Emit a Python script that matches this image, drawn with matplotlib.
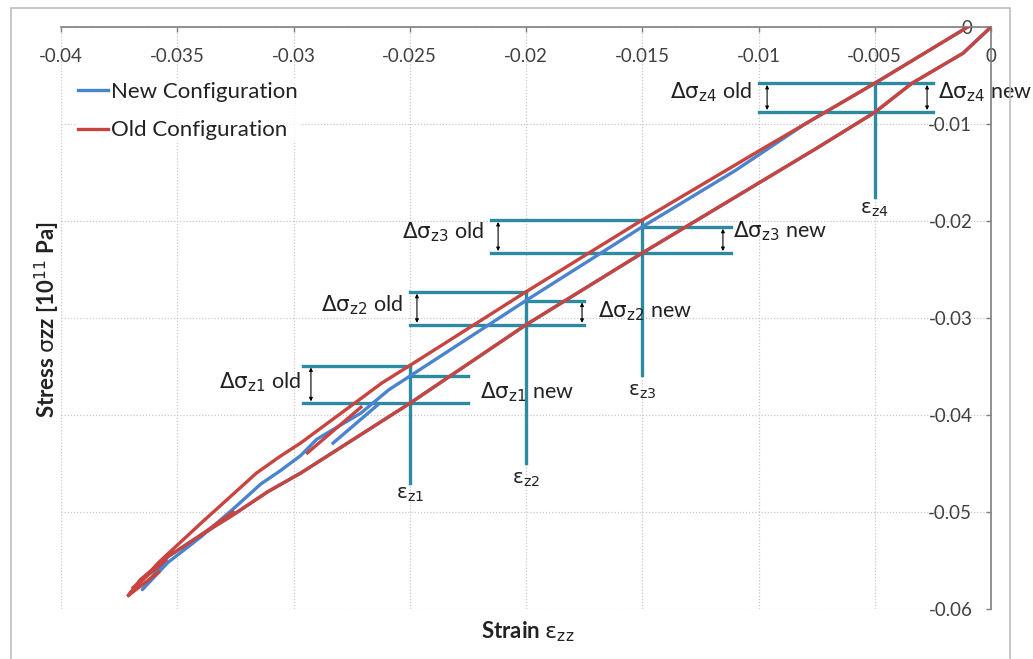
import matplotlib
matplotlib.use('Agg')
import matplotlib.pyplot as plt
import matplotlib.patches as patches
import numpy as np

plt.rcParams['font.family'] = ['Lato', 'DejaVu Sans']

# tick values / labels
x_ticks = [-0.04, -0.035, -0.03, -0.025, -0.02, -0.015, -0.01, -0.005, 0]
x_labels = ['-0.04', '-0.035', '-0.03', '-0.025', '-0.02', '-0.015', '-0.01', '-0.005', '0']
y_ticks = [0, -0.01, -0.02, -0.03, -0.04, -0.05, -0.06]
y_labels = ['0', '-0.01', '-0.02', '-0.03', '-0.04', '-0.05', '-0.06']

# old configuration: loading branch then unloading branch
old_strain = [0, -0.0012, -0.0034, -0.005, -0.0075, -0.010, -0.015, -0.020, -0.025,
              -0.0297, -0.0311, -0.0326, -0.034, -0.0354, -0.0366, -0.0371,
              -0.0358, -0.0340, -0.0316, -0.0306, -0.0297,
              -0.0271, -0.0262, -0.025, -0.020, -0.015, -0.010, -0.005, -0.001]
old_stress = [0, -0.0027, -0.0058, -0.0088, -0.0125, -0.0161, -0.0233, -0.0307, -0.0388,
              -0.0460, -0.0479, -0.0503, -0.0524, -0.0546, -0.0570, -0.0586,
              -0.0552, -0.0512, -0.0460, -0.0443, -0.0429,
              -0.0383, -0.0367, -0.0349, -0.0273, -0.0199, -0.0128, -0.0058, 0.0]
# short reloading pieces of the old configuration
old_part_strain = [-0.0294, -0.0271, np.nan, -0.0340, -0.0326, np.nan,
                   -0.0369, -0.0355, np.nan, -0.0371, -0.0358]
old_part_stress = [-0.0439, -0.0392, np.nan, -0.0524, -0.0500, np.nan,
                   -0.0578, -0.0550, np.nan, -0.0586, -0.0562]

# new configuration
new_strain = [0, -0.0012, -0.0034, -0.005, -0.0075, -0.010, -0.015, -0.020, -0.025,
              -0.0297, -0.0311, -0.0326, -0.034, -0.0354, -0.0365,
              -0.0354, -0.034, -0.0326, -0.0314, -0.0306, -0.0297, -0.029,
              -0.0271, -0.0259, -0.025, -0.020, -0.015, -0.011, -0.008, -0.005, -0.001]
new_stress = [0, -0.0027, -0.0058, -0.0088, -0.0125, -0.0161, -0.0233, -0.0307, -0.0388,
              -0.0460, -0.0479, -0.0503, -0.0524, -0.0546, -0.0580,
              -0.0552, -0.0526, -0.0497, -0.0471, -0.0458, -0.0442, -0.0425,
              -0.0398, -0.0374, -0.0360, -0.0282, -0.0206, -0.0148, -0.0100, -0.0058, 0.0]
new_part_strain = [-0.0283, -0.0264]
new_part_stress = [-0.0429, -0.0390]

# stress-difference markers at the four strain levels
eps_levels = [-0.025, -0.02, -0.015, -0.005]
eps_names = ['z1', 'z2', 'z3', 'z4']
sig_old_top = [-0.0349, -0.0273, -0.0199, -0.00577]
sig_new_top = [-0.0360, -0.0282, -0.0206, -0.00577]
sig_bottom = [-0.0388, -0.0307, -0.0233, -0.00876]
old_line_start = [-0.0296, -0.025, -0.0215, -0.0100]
new_line_end = [-0.0225, -0.0175, -0.0112, -0.0025]
vert_bottom = [-0.0470, -0.0449, -0.0359, -0.0175]

red = '#C8443F'
blue = '#4A84CF'
teal = '#2C8BA0'

fig = plt.figure(figsize=(10.33, 6.59), dpi=100)
ax = fig.add_axes([61/1033, 1 - 609/659, 930/1033, 582/659])

ax.set_xlim(-0.04, 0)
ax.set_ylim(-0.06, 0)

for s in ['top', 'right']:
    ax.spines[s].set_visible(False)
ax.spines['bottom'].set_position(('data', 0))
ax.spines['left'].set_position(('data', 0))
for s in ['bottom', 'left']:
    ax.spines[s].set_color('#7f7f7f')
    ax.spines[s].set_linewidth(1.2)

ax.set_xticks(x_ticks)
ax.set_xticklabels(x_labels)
ax.set_yticks(y_ticks)
ax.set_yticklabels(y_labels)
ax.tick_params(direction='out', length=3.5, width=1, color='#7f7f7f',
               labelsize=13.5, labelcolor='#404040')
ax.tick_params(axis='x', pad=11.5)
ax.tick_params(axis='y', pad=10)
ax.grid(True, color='#c8c8c8', linestyle=(0, (1, 1.5)), linewidth=0.9)
ax.set_axisbelow(True)

# teal guide lines
for i in range(4):
    x0 = eps_levels[i]
    ax.plot([old_line_start[i], x0], [sig_old_top[i], sig_old_top[i]], color=teal, lw=2.4, zorder=2)
    ax.plot([x0, new_line_end[i]], [sig_new_top[i], sig_new_top[i]], color=teal, lw=2.4, zorder=2)
    ax.plot([old_line_start[i], new_line_end[i]], [sig_bottom[i], sig_bottom[i]], color=teal, lw=2.4, zorder=2)
    ax.plot([x0, x0], [sig_old_top[i], vert_bottom[i]], color=teal, lw=2.4, zorder=2)

ax.plot(new_strain, new_stress, color=blue, lw=2.4, label='New Configuration', zorder=3)
ax.plot(new_part_strain, new_part_stress, color=blue, lw=2.4, zorder=3)
ax.plot(old_strain, old_stress, color=red, lw=2.4, label='Old Configuration', zorder=4)
ax.plot(old_part_strain, old_part_stress, color=red, lw=2.4, zorder=4)

# double arrows
arrow_x_old = [-0.02925, -0.02469, -0.0212, -0.00963]
arrow_x_new = [None, -0.01759, -0.01153, -0.00275]
for i in range(4):
    ax.annotate('', xy=(arrow_x_old[i], sig_old_top[i] - 0.0002), xytext=(arrow_x_old[i], sig_bottom[i] + 0.0002),
                arrowprops=dict(arrowstyle='<|-|>', color='black', lw=0.8, shrinkA=0, shrinkB=0,
                                mutation_scale=5), zorder=6)
    if arrow_x_new[i] is not None:
        ax.annotate('', xy=(arrow_x_new[i], sig_new_top[i] - 0.0002), xytext=(arrow_x_new[i], sig_bottom[i] + 0.0002),
                    arrowprops=dict(arrowstyle='<|-|>', color='black', lw=0.8, shrinkA=0, shrinkB=0,
                                    mutation_scale=5), zorder=6)

# annotation texts
old_txt_x = [-0.0297, -0.0253, -0.0218, -0.0103]
old_txt_y = [-0.0366, -0.0287, -0.0212, -0.0067]
new_txt_x = [-0.0220, -0.0169, -0.0111, -0.0023]
new_txt_y = [-0.0377, -0.0293, -0.0211, -0.0067]
eps_txt_y = [-0.0482, -0.0467, -0.0376, -0.0189]
for i in range(4):
    n = eps_names[i]
    ax.text(old_txt_x[i], old_txt_y[i], r'$\mathrm{\Delta\sigma_{%s}}$ old' % n, ha='right', va='center',
            fontsize=15.5, color='#222222', zorder=7)
    ax.text(new_txt_x[i], new_txt_y[i], r'$\mathrm{\Delta\sigma_{%s}}$ new' % n, ha='left', va='center',
            fontsize=15.5, color='#222222', zorder=7)
    ax.text(eps_levels[i], eps_txt_y[i], r'$\mathrm{\varepsilon_{%s}}$' % n, ha='center', va='center',
            fontsize=14.5, color='#222222', zorder=7)

leg = ax.legend(loc='upper left', bbox_to_anchor=(0.016, 0.91), frameon=True, fontsize=16,
                handlelength=1.35, handletextpad=0.15, labelspacing=0.85, borderpad=0.1,
                borderaxespad=0, fancybox=False)
leg.get_frame().set_edgecolor('none')
leg.get_frame().set_facecolor('white')
for t in leg.get_texts():
    t.set_color('#222222')

fig.text(528/1033, 1 - 632/659, r'Strain $\mathrm{\varepsilon_{zz}}$', ha='center', va='center',
         fontsize=16, fontweight='bold', color='#222222')
fig.text(47/1033, 1 - 320/659, r'Stress $\mathrm{\sigma}$zz [10$^{11}$ Pa]', ha='center', va='center',
         rotation=90, fontsize=16, fontweight='bold', color='#222222')

border = patches.Rectangle((11/1033, -0.05), 999/1033, 1 - 8/659 + 0.05, transform=fig.transFigure,
                           fill=False, edgecolor='#bdbdbd', lw=1.2)
fig.patches.append(border)

plt.savefig('out.png', dpi=100)
